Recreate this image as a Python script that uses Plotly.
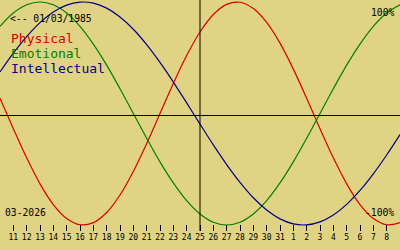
import plotly.graph_objects as go

# Days shown (10 .. 40 where 32.. = next month's 1..)
days = list(range(10, 41))
physical = [0.136, -0.136, -0.398, -0.631, -0.817, -0.942, -0.998, -0.979, -0.888, -0.731,
            -0.520, -0.270, 0.000, 0.270, 0.520, 0.731, 0.888, 0.979, 0.998, 0.942,
            0.817, 0.631, 0.398, 0.136, -0.136, -0.398, -0.631, -0.817, -0.942, -0.998, -0.979]
emotional = [0.782, 0.901, 0.975, 1.000, 0.975, 0.901, 0.782, 0.623, 0.434, 0.222,
             0.000, -0.222, -0.434, -0.623, -0.782, -0.901, -0.975, -1.000, -0.975, -0.901,
             -0.782, -0.623, -0.434, -0.222, 0.000, 0.222, 0.434, 0.623, 0.782, 0.901, 0.975]
intellectual = [0.372, 0.541, 0.690, 0.815, 0.910, 0.972, 0.999, 0.990, 0.945, 0.866,
                0.756, 0.618, 0.458, 0.282, 0.095, -0.095, -0.282, -0.458, -0.618, -0.756,
                -0.866, -0.945, -0.990, -0.999, -0.972, -0.910, -0.815, -0.690, -0.541, -0.372, -0.189]

tick_vals = list(range(11, 40))
tick_text = [str(d) for d in range(11, 32)] + [str(d) for d in range(1, 9)]

birth_label = "<-- 01/03/1985"
month_label = "03-2026"
center_day = 25

BG = "#E1D384"
RED = "#D80000"
GREEN = "#008000"
BLUE = "#000088"
FONT = "DejaVu Sans Mono"

fig = go.Figure()
for vals, col in [(physical, RED), (emotional, GREEN), (intellectual, BLUE)]:
    fig.add_trace(go.Scatter(x=days, y=vals, mode="lines",
                             line=dict(color=col, width=1.2, shape="spline"),
                             hoverinfo="skip"))

fig.add_shape(type="line", xref="x", yref="paper", x0=center_day, x1=center_day, y0=0, y1=1,
              line=dict(color="black", width=1))
fig.add_shape(type="line", xref="paper", yref="paper", x0=0, x1=1, y0=0.5, y1=0.5,
              line=dict(color="black", width=1))

H = 231.0
def py(p):
    return 1 - p / H

ann = []
ann.append(dict(text=birth_label, x=9 / 400, y=py(18), xanchor="left", yanchor="middle",
                font=dict(size=9.7, color="black", family=FONT)))
ann.append(dict(text="100%", x=395 / 400, y=py(12.5), xanchor="right", yanchor="middle",
                font=dict(size=9.7, color="black", family=FONT)))
ann.append(dict(text="-100%", x=395 / 400, y=py(212), xanchor="right", yanchor="middle",
                font=dict(size=9.7, color="black", family=FONT)))
ann.append(dict(text=month_label, x=4 / 400, y=py(212), xanchor="left", yanchor="middle",
                font=dict(size=9.7, color="black", family=FONT)))
for name, col, yc in [("Physical", RED, 38.5), ("Emotional", GREEN, 53.5), ("Intellectual", BLUE, 68.5)]:
    ann.append(dict(text=name, x=9.5 / 400, y=py(yc), xanchor="left", yanchor="middle",
                    font=dict(size=13, color=col, family=FONT)))
for a in ann:
    a.update(xref="paper", yref="paper", showarrow=False, borderpad=0)

fig.update_layout(
    width=400, height=250,
    margin=dict(l=0, r=0, t=0, b=19, pad=0),
    paper_bgcolor=BG, plot_bgcolor=BG,
    showlegend=False,
    annotations=ann,
    xaxis=dict(range=[10, 40], tickmode="array", tickvals=tick_vals, ticktext=tick_text,
               ticks="inside", ticklen=6, tickwidth=1, tickcolor="black",
               showgrid=False, zeroline=False, showline=False,
               tickfont=dict(size=8, color="black", family=FONT)),
    yaxis=dict(range=[-1.054, 1.018], showticklabels=False, ticks="",
               showgrid=False, zeroline=False, showline=False),
)

fig.write_html("out.html")
